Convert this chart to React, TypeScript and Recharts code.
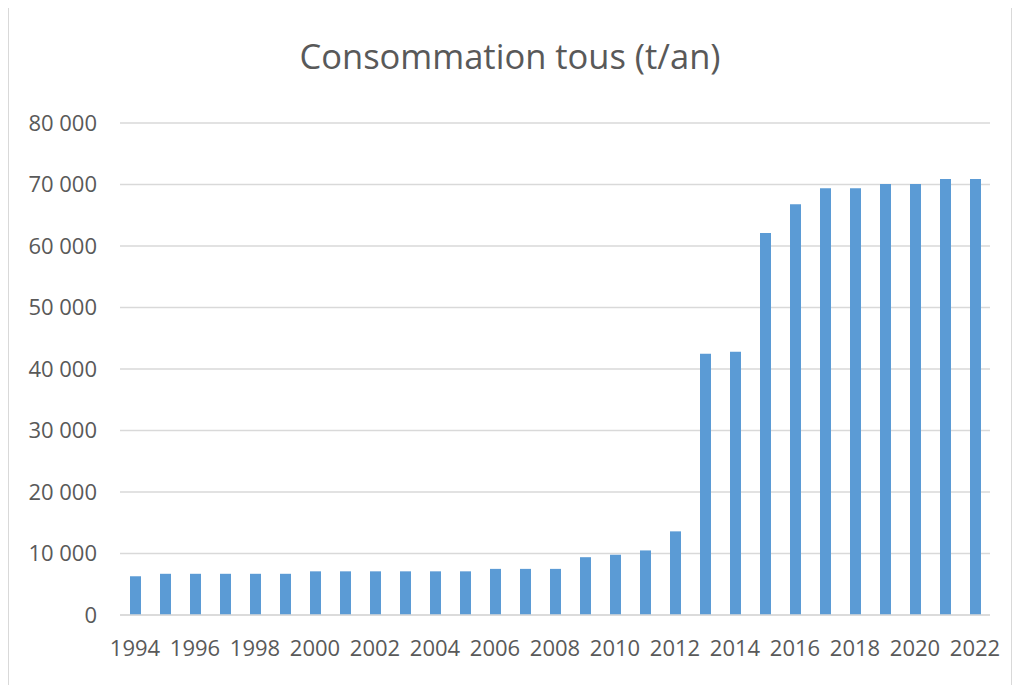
import React from 'react';
import { BarChart, Bar, XAxis, YAxis, CartesianGrid } from 'recharts';

const years = [
  '1994', '1995', '1996', '1997', '1998', '1999', '2000', '2001', '2002', '2003',
  '2004', '2005', '2006', '2007', '2008', '2009', '2010', '2011', '2012', '2013',
  '2014', '2015', '2016', '2017', '2018', '2019', '2020', '2021', '2022',
];

const consumption = [
  6300, 6700, 6700, 6700, 6700, 6700, 7100, 7100, 7100, 7100,
  7100, 7100, 7500, 7500, 7500, 9400, 9800, 10500, 13600, 42500,
  42800, 62100, 66800, 69400, 69400, 70100, 70100, 70900, 70900,
];

const yTicks = [0, 10000, 20000, 30000, 40000, 50000, 60000, 70000, 80000];

const data = years.map((year, i) => ({ year, value: consumption[i] }));

const FONT = '"Open Sans", sans-serif';
const TEXT = '#595959';

const fmt = (v: number) => (v === 0 ? '0' : `${Math.round(v / 1000)} 000`);

export default function App() {
  return (
    <div
      style={{
        position: 'relative',
        width: 1004,
        height: 690,
        marginTop: -1,
        border: '1px solid #d9d9d9',
        background: '#fff',
        fontFamily: FONT,
        boxSizing: 'border-box',
      }}
    >
      <div
        style={{
          position: 'absolute',
          left: 0,
          right: 0,
          top: 26,
          textAlign: 'center',
          fontSize: 34.5,
          color: TEXT,
          fontFamily: FONT,
          lineHeight: 1.3,
        }}
      >
        Consommation tous (t/an)
      </div>
      <BarChart
        width={1000}
        height={670}
        data={data}
        margin={{ top: 115, right: 19, left: 11, bottom: 13 }}
        barCategoryGap={0}
      >
        <CartesianGrid vertical={false} stroke="#d9d9d9" strokeWidth={1.5} />
        <XAxis
          dataKey="year"
          interval={1}
          tickLine={false}
          axisLine={{ stroke: '#d9d9d9', strokeWidth: 1.5 }}
          tick={{ fill: TEXT, fontSize: 22, fontFamily: FONT }}
          tickMargin={19}
          height={50}
        />
        <YAxis
          domain={[0, 80000]}
          ticks={yTicks}
          tickFormatter={fmt}
          axisLine={false}
          tickLine={false}
          tick={{ fill: TEXT, fontSize: 22, fontFamily: FONT }}
          tickMargin={17}
          width={100}
        />
        <Bar dataKey="value" fill="#5B9BD5" barSize={11} isAnimationActive={false} />
      </BarChart>
    </div>
  );
}
